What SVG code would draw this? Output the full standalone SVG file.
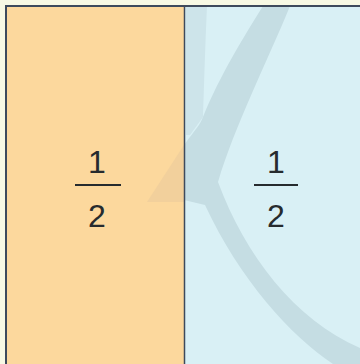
<svg xmlns="http://www.w3.org/2000/svg" width="360" height="364" viewBox="0 0 360 364">
  <style>
    .num { font-family: "Liberation Sans", Arial, sans-serif; font-size: 32px; fill: #262b2e; text-anchor: middle; }
    .bar { stroke: #262b2e; stroke-width: 2; }
  </style>
  <defs>
    <clipPath id="blueClip"><rect x="185" y="7" width="175" height="357"/></clipPath>
  </defs>
  <rect x="0" y="0" width="360" height="364" fill="#f8f9e4"/>
  <g id="left-half">
    <rect x="6" y="6" width="178" height="360" fill="#fcd89d"/>
    <path d="M184,145 L147,202 L184,202 Z" fill="#f2d09c"/>
    <text class="num" x="97" y="173">1</text>
    <line class="bar" x1="75" y1="185" x2="121" y2="185"/>
    <text class="num" x="97" y="227">2</text>
  </g>
  <g id="right-half">
    <rect x="184" y="6" width="180" height="360" fill="#d9f0f5"/>
    <g clip-path="url(#blueClip)">
      <path d="M186,6 L207,6 C205,50 204,90 203,117 L190,135 L186,135 Z" fill="#cde4ea"/>
      <path d="M263,6 L290,6 C268,60 235,125 218,182 C245,255 295,320 360,348 L360,364 L333,364 C290,335 240,280 205,205 L184,200 L184,145 C195,130 200,125 203,117 C220,75 245,35 263,6 Z" fill="#c5dde3"/>
    </g>
    <text class="num" x="276" y="173">1</text>
    <line class="bar" x1="254" y1="185" x2="298" y2="185"/>
    <text class="num" x="276" y="227">2</text>
  </g>
  <g id="frame" fill="none" stroke="#3e4a5c">
    <path d="M6,366 L6,6 L362,6" stroke-width="2"/>
    <line x1="184.5" y1="6" x2="184.5" y2="366" stroke-width="1.5"/>
  </g>
</svg>
